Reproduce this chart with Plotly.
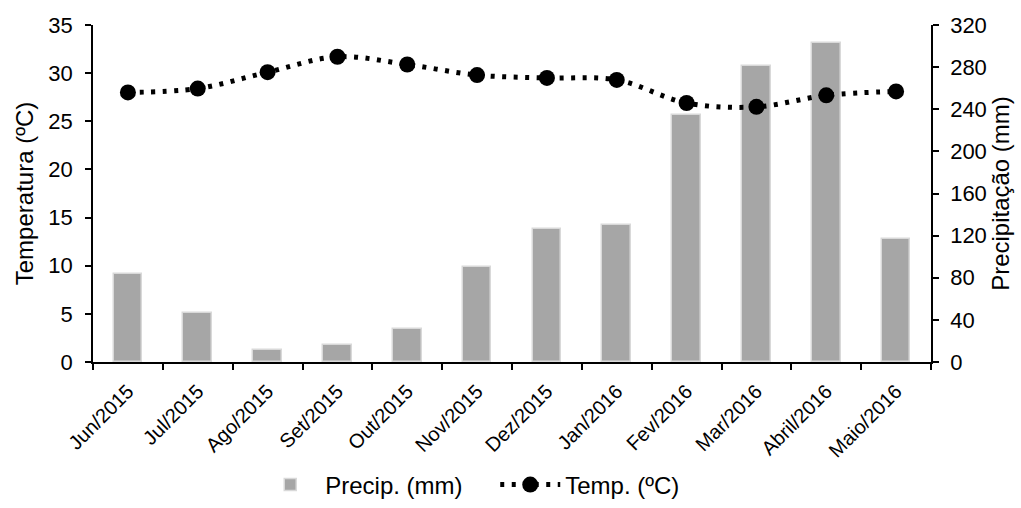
import plotly.graph_objects as go

months = ["Jun/2015", "Jul/2015", "Ago/2015", "Set/2015", "Out/2015", "Nov/2015",
          "Dez/2015", "Jan/2016", "Fev/2016", "Mar/2016", "Abril/2016", "Maio/2016"]
precip_mm = [84, 47, 11, 16, 31, 90, 126, 130, 235, 281, 303, 117]
temp_c = [28.0, 28.4, 30.1, 31.7, 30.9, 29.8, 29.5, 29.3, 26.9, 26.5, 27.7, 28.1]

temp_ticks = [0, 5, 10, 15, 20, 25, 30, 35]
precip_ticks = [0, 40, 80, 120, 160, 200, 240, 280, 320]

FONT = "Liberation Sans, Arial, sans-serif"

fig = go.Figure()
fig.add_trace(go.Bar(
    x=months, y=precip_mm, name="Precip. (mm)", yaxis="y",
    marker=dict(color="#a6a6a6", line=dict(color="#d9d9d9", width=1.5)),
    width=0.41,
))
fig.add_trace(go.Scatter(
    x=months, y=temp_c, name="Temp. (ºC)", yaxis="y2",
    mode="lines+markers",
    line=dict(color="black", width=5, dash="4px,7.5px", shape="spline", smoothing=1),
    marker=dict(color="black", size=16, symbol="circle"),
))

axis_common = dict(showline=True, linecolor="black", linewidth=1.5, ticks="outside",
                   tickcolor="black", ticklen=6, tickwidth=1.5, showgrid=False,
                   zeroline=False, automargin=False,
                   tickfont=dict(family=FONT, size=22, color="black"))

fig.update_layout(
    width=1021, height=508,
    margin=dict(l=93, r=90, t=25, b=146, autoexpand=False),
    paper_bgcolor="white", plot_bgcolor="white",
    font=dict(family=FONT, size=22, color="black"),
    bargap=0,
    xaxis=dict(**axis_common, type="category", tickson="boundaries", tickangle=-45,
               range=[-0.5, 11.5], ticklabelstandoff=8),
    yaxis=dict(**axis_common, side="right", range=[0, 320], tickvals=precip_ticks,
               ticklabelstandoff=7,
               title=dict(text="Precipitação (mm)", standoff=0,
                          font=dict(family=FONT, size=24, color="black"))),
    yaxis2=dict(**axis_common, side="left", overlaying="y", anchor="x", range=[0, 35],
                tickvals=temp_ticks, ticklabelstandoff=8,
                title=dict(text="Temperatura (ºC)", standoff=8,
                           font=dict(family=FONT, size=24, color="black"))),
    showlegend=True,
    legend=dict(orientation="h", x=0.48, xanchor="center", y=-0.365, yanchor="middle",
                font=dict(family=FONT, size=24, color="black"), itemwidth=60,
                entrywidth=165, entrywidthmode="pixels",
                traceorder="normal"),
)
fig.update_xaxes(tickfont=dict(family=FONT, size=20, color="black"))

fig.write_html("out.html")
